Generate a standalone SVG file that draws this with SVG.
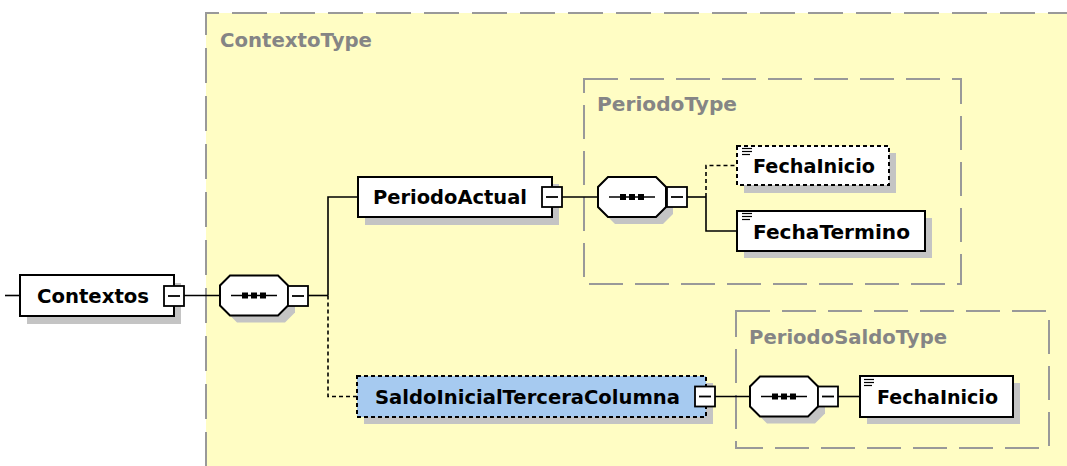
<svg xmlns="http://www.w3.org/2000/svg" xmlns:xlink="http://www.w3.org/1999/xlink" width="1067" height="466" viewBox="0 0 1067 466">
  <style>
    .type-frame { fill: none; stroke: #999999; stroke-width: 2; }
    .type-label { font-family: "DejaVu Sans", "Liberation Sans", sans-serif; font-weight: bold; font-size: 20px; fill: #858585; }
    .node { fill: #ffffff; stroke: #000000; stroke-width: 2; }
    .node.optional { stroke-dasharray: 4 3; }
    .node.selected { fill: #a6caf0; }
    .shadow { fill: #c4c4c4; stroke: none; }
    .label { font-family: "DejaVu Sans", "Liberation Sans", sans-serif; font-weight: bold; font-size: 20px; fill: #000000; }
    .wire { fill: none; stroke: #000000; stroke-width: 1.6; }
    .wire.optional { stroke-dasharray: 4 3; }
    .toggle rect { fill: #ffffff; stroke: #000000; stroke-width: 1.8; }
    .toggle line { stroke: #000000; stroke-width: 1.8; }
    .seq-line { stroke: #000000; stroke-width: 1.6; }
    .seq-dot { fill: #000000; }
    .icon line { stroke: #000000; stroke-width: 1.2; }
  </style>
  <defs>
    <path id="octagon" d="M10,0 H58 L68,10 V30 L58,40 H10 L0,30 V10 Z"/>
    <g id="toggle" class="toggle">
      <rect x="0" y="0" width="20" height="20"/>
      <line x1="4" y1="10" x2="16" y2="10"/>
    </g>
    <g id="sequence">
      <use xlink:href="#octagon" transform="translate(7,7)" class="shadow"/>
      <use xlink:href="#octagon" class="node"/>
      <line class="seq-line" x1="11" y1="20" x2="57" y2="20"/>
      <rect class="seq-dot" x="22" y="17" width="6" height="6"/>
      <rect class="seq-dot" x="31" y="17" width="6" height="6"/>
      <rect class="seq-dot" x="40" y="17" width="6" height="6"/>
    </g>
    <g id="simple-icon" class="icon">
      <line x1="0" y1="0.5" x2="10" y2="0.5"/>
      <line x1="0" y1="3.5" x2="10" y2="3.5"/>
      <line x1="0" y1="6.5" x2="8" y2="6.5"/>
    </g>
  </defs>

  <!-- background -->
  <rect x="0" y="0" width="1067" height="466" fill="#ffffff"/>

  <!-- complex type frames -->
  <g id="ContextoType">
    <rect x="206" y="13" width="900" height="500" fill="#fffdc4"/>
    <path class="type-frame" d="M206,480 V13 H1080" stroke-dasharray="35 13" stroke-dashoffset="35"/>
    <text class="type-label" x="220" y="47" textLength="152" lengthAdjust="spacingAndGlyphs">ContextoType</text>
  </g>
  <g id="PeriodoType">
    <rect class="type-frame" x="584" y="79" width="377" height="205" stroke-dasharray="34 12"/>
    <text class="type-label" x="597" y="111" textLength="140" lengthAdjust="spacingAndGlyphs">PeriodoType</text>
  </g>
  <g id="PeriodoSaldoType">
    <rect class="type-frame" x="736" y="311" width="313" height="137" stroke-dasharray="34 12"/>
    <text class="type-label" x="749" y="344" textLength="198" lengthAdjust="spacingAndGlyphs">PeriodoSaldoType</text>
  </g>

  <!-- connectors -->
  <g id="connectors">
    <line class="wire" x1="5" y1="295.5" x2="20" y2="295.5"/>
    <line class="wire" x1="184" y1="295.5" x2="220" y2="295.5"/>
    <line class="wire" x1="308" y1="295.5" x2="328" y2="295.5"/>
    <path class="wire" d="M328,295.5 V197 H358"/>
    <path class="wire optional" d="M328,295.5 V396.5 H357"/>
    <line class="wire" x1="562" y1="197" x2="597" y2="197"/>
    <line class="wire" x1="687" y1="197" x2="706" y2="197"/>
    <path class="wire optional" d="M706,197 V165.5 H737"/>
    <path class="wire" d="M706,197 V231 H737"/>
    <line class="wire" x1="715" y1="396.5" x2="750" y2="396.5"/>
    <line class="wire" x1="838" y1="396.5" x2="860" y2="396.5"/>
  </g>

  <!-- element: Contextos -->
  <g id="node-Contextos">
    <rect class="shadow" x="27" y="283" width="154" height="41"/>
    <rect class="node" x="20" y="275" width="154" height="41"/>
    <text class="label" x="37" y="302.5" textLength="112" lengthAdjust="spacingAndGlyphs">Contextos</text>
    <use xlink:href="#toggle" x="164" y="286"/>
  </g>

  <!-- sequence under Contextos -->
  <g id="seq-ContextoType">
    <use xlink:href="#sequence" x="220" y="275.5"/>
    <use xlink:href="#toggle" x="288" y="286"/>
  </g>

  <!-- element: PeriodoActual -->
  <g id="node-PeriodoActual">
    <rect class="shadow" x="365" y="184" width="194" height="41"/>
    <rect class="node" x="358" y="177" width="194" height="40"/>
    <text class="label" x="373" y="204" textLength="154" lengthAdjust="spacingAndGlyphs">PeriodoActual</text>
    <use xlink:href="#toggle" x="542" y="187"/>
  </g>

  <!-- sequence of PeriodoType -->
  <g id="seq-PeriodoType">
    <use xlink:href="#sequence" x="598" y="177"/>
    <use xlink:href="#toggle" x="667" y="187"/>
  </g>

  <!-- element: FechaInicio (optional) -->
  <g id="node-FechaInicio-1">
    <rect class="shadow" x="744" y="153" width="152" height="40"/>
    <rect class="node optional" x="737" y="146" width="152" height="39"/>
    <use xlink:href="#simple-icon" x="742" y="148"/>
    <text class="label" x="753" y="172.5" textLength="122" lengthAdjust="spacingAndGlyphs">FechaInicio</text>
  </g>

  <!-- element: FechaTermino -->
  <g id="node-FechaTermino">
    <rect class="shadow" x="744" y="218" width="188" height="40"/>
    <rect class="node" x="737" y="211" width="188" height="40"/>
    <use xlink:href="#simple-icon" x="742" y="213"/>
    <text class="label" x="753" y="238.5" textLength="157" lengthAdjust="spacingAndGlyphs">FechaTermino</text>
  </g>

  <!-- element: SaldoInicialTerceraColumna (optional, selected) -->
  <g id="node-SaldoInicialTerceraColumna">
    <rect class="shadow" x="364" y="383" width="349" height="41"/>
    <rect class="node optional selected" x="357" y="376" width="349" height="41"/>
    <text class="label" x="375" y="403.5" textLength="305" lengthAdjust="spacingAndGlyphs">SaldoInicialTerceraColumna</text>
    <use xlink:href="#toggle" x="695" y="386.5"/>
  </g>

  <!-- sequence of PeriodoSaldoType -->
  <g id="seq-PeriodoSaldoType">
    <use xlink:href="#sequence" x="750" y="376.5"/>
    <use xlink:href="#toggle" x="818" y="386.5"/>
  </g>

  <!-- element: FechaInicio -->
  <g id="node-FechaInicio-2">
    <rect class="shadow" x="867" y="383" width="153" height="41"/>
    <rect class="node" x="860" y="376" width="153" height="41"/>
    <use xlink:href="#simple-icon" x="864" y="379"/>
    <text class="label" x="877" y="403.5" textLength="121" lengthAdjust="spacingAndGlyphs">FechaInicio</text>
  </g>
</svg>
